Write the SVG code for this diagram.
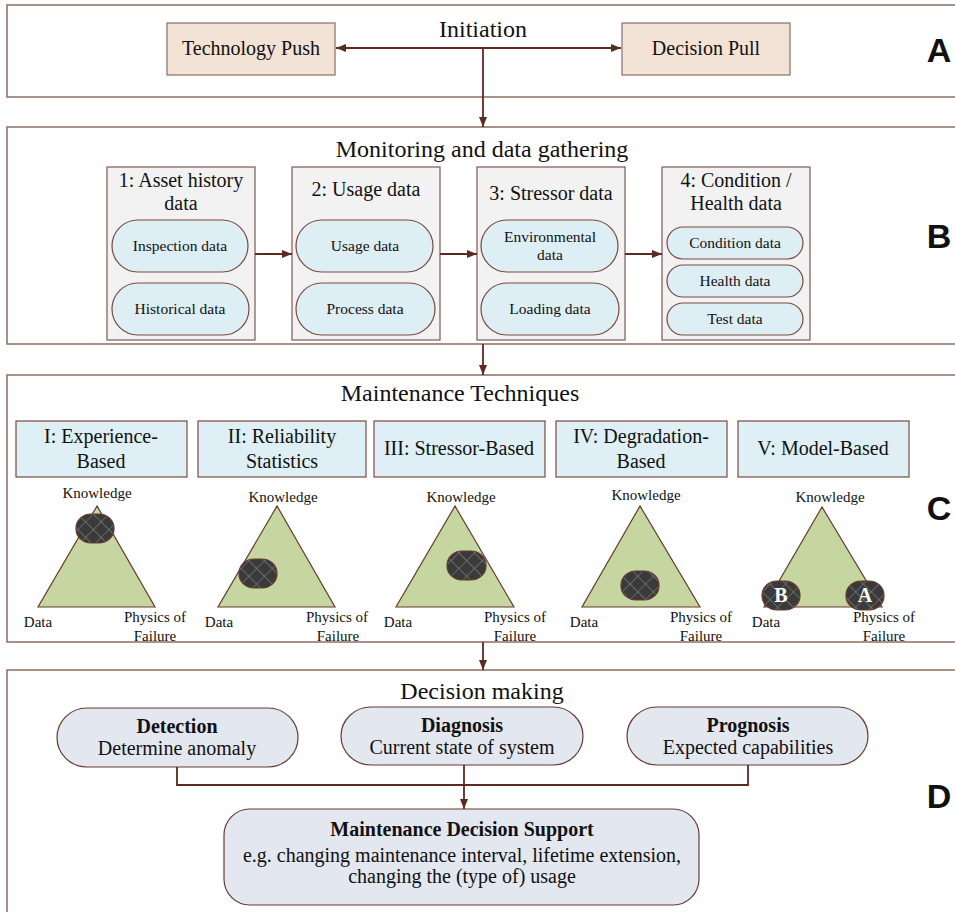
<svg xmlns="http://www.w3.org/2000/svg" width="955" height="912" viewBox="0 0 955 912">
<style>
text{font-family:"Liberation Serif","Times New Roman",serif;fill:#111;text-anchor:middle}
.title{font-size:24px}
.big{font-size:20px}
.small{font-size:15.5px}
.tri{font-size:15px}
.bold{font-weight:bold}
.letter{font-family:"Liberation Sans",Arial,sans-serif;font-weight:bold;font-size:34px}
.frame{fill:#fff;stroke:#8a6d63;stroke-width:1.5}
.boxA{fill:#f3e2d6;stroke:#8b6e62;stroke-width:1.2}
.boxB{fill:#f2f2f2;stroke:#7b5b50;stroke-width:1.2}
.pill{fill:#deeef5;stroke:#7a4a3e;stroke-width:1.2}
.head{fill:#deeff5;stroke:#7a4a3e;stroke-width:1.2}
.triangle{fill:#c5d6a0;stroke:#6b3a2e;stroke-width:1.2}
.blob{fill:url(#hatch);stroke:#6b3a2e;stroke-width:1.2}
.dpill{fill:#e3e7f0;stroke:#6b3a2e;stroke-width:1.2}
.conn{fill:none;stroke:#5b2b20;stroke-width:1.8}
</style>
<defs>
<marker id="arr" viewBox="0 0 10 8" refX="10" refY="4" markerWidth="10" markerHeight="8" markerUnits="userSpaceOnUse" orient="auto-start-reverse">
<path d="M0,0 L10,4 L0,8 z" fill="#5b2b20"/>
</marker>
<pattern id="hatch" width="11" height="11" patternUnits="userSpaceOnUse" patternTransform="rotate(45)">
<rect width="11" height="11" fill="#3a3a3a"/>
<path d="M0 0H11M0 0V11" stroke="#7a7a7a" stroke-width="1.3"/>
</pattern>
</defs>

<!-- Section frames -->
<g id="sectionA">
<rect class="frame" x="7" y="5" width="960" height="92"/>
<text class="title" x="483" y="37">Initiation</text>
<text class="letter" x="939" y="62">A</text>
</g>
<g id="sectionB">
<rect class="frame" x="7" y="127" width="960" height="217"/>
<text class="title" x="482" y="157">Monitoring and data gathering</text>
<text class="letter" x="939" y="248">B</text>
</g>
<g id="sectionC">
<rect class="frame" x="7" y="375" width="960" height="267"/>
<text class="title" x="460" y="401">Maintenance Techniques</text>
<text class="letter" x="939" y="520">C</text>
</g>
<g id="sectionD">
<rect class="frame" x="7" y="670" width="960" height="260"/>
<text class="title" x="482" y="699">Decision making</text>
<text class="letter" x="939" y="808">D</text>
</g>

<!-- A nodes -->
<g id="techPush">
<rect class="boxA" x="167" y="23" width="168" height="52"/>
<text class="big" x="251" y="55">Technology Push</text>
</g>
<g id="decisionPull">
<rect class="boxA" x="622" y="23" width="168" height="52"/>
<text class="big" x="706" y="55">Decision Pull</text>
</g>

<!-- B nodes -->
<g id="assetHistory">
<rect class="boxB" x="107" y="167" width="148" height="173"/>
<text class="big" x="181" y="187">1: Asset history</text>
<text class="big" x="181" y="210">data</text>
<rect class="pill" x="112" y="220" width="136" height="52" rx="26"/>
<text class="small" x="180" y="251">Inspection data</text>
<rect class="pill" x="112" y="283" width="137" height="52" rx="26"/>
<text class="small" x="180" y="314">Historical data</text>
</g>
<g id="usageData">
<rect class="boxB" x="292" y="167" width="148" height="173"/>
<text class="big" x="366" y="196">2: Usage data</text>
<rect class="pill" x="296" y="220" width="137" height="52" rx="26"/>
<text class="small" x="365" y="251">Usage data</text>
<rect class="pill" x="296" y="283" width="139" height="52" rx="26"/>
<text class="small" x="365" y="314">Process data</text>
</g>
<g id="stressorData">
<rect class="boxB" x="477" y="167" width="148" height="173"/>
<text class="big" x="551" y="200">3: Stressor data</text>
<rect class="pill" x="481" y="220" width="137" height="52" rx="26"/>
<text class="small" x="550" y="242">Environmental</text>
<text class="small" x="550" y="260">data</text>
<rect class="pill" x="481" y="283" width="138" height="52" rx="26"/>
<text class="small" x="550" y="314">Loading data</text>
</g>
<g id="conditionData">
<rect class="boxB" x="662" y="167" width="148" height="173"/>
<text class="big" x="736" y="187">4: Condition /</text>
<text class="big" x="736" y="210">Health data</text>
<rect class="pill" x="667" y="227" width="136" height="32" rx="16"/>
<text class="small" x="735" y="248">Condition data</text>
<rect class="pill" x="667" y="265" width="136" height="32" rx="16"/>
<text class="small" x="735" y="286">Health data</text>
<rect class="pill" x="667" y="303" width="136" height="32" rx="16"/>
<text class="small" x="735" y="324">Test data</text>
</g>

<!-- C nodes -->
<g id="techI">
<rect class="head" x="16" y="421" width="171" height="56"/>
<text class="big" x="101" y="443">I: Experience-</text>
<text class="big" x="101" y="468">Based</text>
<polygon class="triangle" points="97,506 38,607 155,607"/>
<rect class="blob" x="76" y="514" width="38" height="29" rx="15" ry="14"/>
<text class="tri" x="97" y="498">Knowledge</text>
<text class="tri" x="38" y="627">Data</text>
<text class="tri" x="155" y="622">Physics of</text>
<text class="tri" x="155" y="641">Failure</text>
</g>
<g id="techII">
<rect class="head" x="198" y="421" width="168" height="56"/>
<text class="big" x="282" y="443">II: Reliability</text>
<text class="big" x="282" y="468">Statistics</text>
<polygon class="triangle" points="277,506 218,607 335,607"/>
<rect class="blob" x="239" y="559" width="38" height="29" rx="15" ry="14"/>
<text class="tri" x="283" y="502">Knowledge</text>
<text class="tri" x="219" y="627">Data</text>
<text class="tri" x="337" y="622">Physics of</text>
<text class="tri" x="338" y="641">Failure</text>
</g>
<g id="techIII">
<rect class="head" x="374" y="421" width="171" height="56"/>
<text class="big" x="459" y="455">III: Stressor-Based</text>
<polygon class="triangle" points="455,506 396,607 514,607"/>
<rect class="blob" x="447" y="551" width="39" height="29" rx="15" ry="14"/>
<text class="tri" x="461" y="502">Knowledge</text>
<text class="tri" x="398" y="627">Data</text>
<text class="tri" x="515" y="622">Physics of</text>
<text class="tri" x="515" y="641">Failure</text>
</g>
<g id="techIV">
<rect class="head" x="556" y="421" width="171" height="56"/>
<text class="big" x="641" y="443">IV: Degradation-</text>
<text class="big" x="641" y="468">Based</text>
<polygon class="triangle" points="640,506 582,607 700,607"/>
<rect class="blob" x="621" y="571" width="38" height="29" rx="15" ry="14"/>
<text class="tri" x="646" y="500">Knowledge</text>
<text class="tri" x="584" y="627">Data</text>
<text class="tri" x="701" y="622">Physics of</text>
<text class="tri" x="701" y="641">Failure</text>
</g>
<g id="techV">
<rect class="head" x="738" y="421" width="171" height="56"/>
<text class="big" x="823" y="455">V: Model-Based</text>
<polygon class="triangle" points="822,507 764,607 882,607"/>
<rect class="blob" x="762" y="581" width="38" height="29" rx="15" ry="14"/>
<text class="bold" x="781" y="602" style="font-size:20px;fill:#fff">B</text>
<rect class="blob" x="846" y="581" width="38" height="29" rx="15" ry="14"/>
<text class="bold" x="865" y="602" style="font-size:20px;fill:#fff">A</text>
<text class="tri" x="830" y="502">Knowledge</text>
<text class="tri" x="766" y="627">Data</text>
<text class="tri" x="884" y="622">Physics of</text>
<text class="tri" x="884" y="641">Failure</text>
</g>

<!-- D nodes -->
<g id="detection">
<rect class="dpill" x="57" y="708" width="241" height="59" rx="30"/>
<text class="big bold" x="177" y="733">Detection</text>
<text class="big" x="177" y="755">Determine anomaly</text>
</g>
<g id="diagnosis">
<rect class="dpill" x="341" y="707" width="242" height="58" rx="30"/>
<text class="big bold" x="462" y="732">Diagnosis</text>
<text class="big" x="462" y="754">Current state of system</text>
</g>
<g id="prognosis">
<rect class="dpill" x="627" y="707" width="241" height="58" rx="30"/>
<text class="big bold" x="748" y="732">Prognosis</text>
<text class="big" x="748" y="754">Expected capabilities</text>
</g>
<g id="mds">
<rect class="dpill" x="224" y="809" width="475" height="96" rx="26"/>
<text class="big bold" x="462" y="836">Maintenance Decision Support</text>
<text class="big" x="462" y="862">e.g. changing maintenance interval, lifetime extension,</text>
<text class="big" x="462" y="883">changing the (type of) usage</text>
</g>

<!-- Connectors -->
<g id="connectors">
<line class="conn" x1="336" y1="48" x2="621" y2="48" marker-start="url(#arr)" marker-end="url(#arr)"/>
<line class="conn" x1="483" y1="48" x2="483" y2="127" marker-end="url(#arr)"/>
<line class="conn" x1="255" y1="254" x2="292" y2="254" marker-end="url(#arr)"/>
<line class="conn" x1="440" y1="254" x2="477" y2="254" marker-end="url(#arr)"/>
<line class="conn" x1="625" y1="254" x2="662" y2="254" marker-end="url(#arr)"/>
<line class="conn" x1="483" y1="344" x2="483" y2="375" marker-end="url(#arr)"/>
<line class="conn" x1="483" y1="642" x2="483" y2="670" marker-end="url(#arr)"/>
<polyline class="conn" points="177,767 177,785 748,785 748,765"/>
<line class="conn" x1="464" y1="765" x2="464" y2="809" marker-end="url(#arr)"/>
</g>
</svg>
